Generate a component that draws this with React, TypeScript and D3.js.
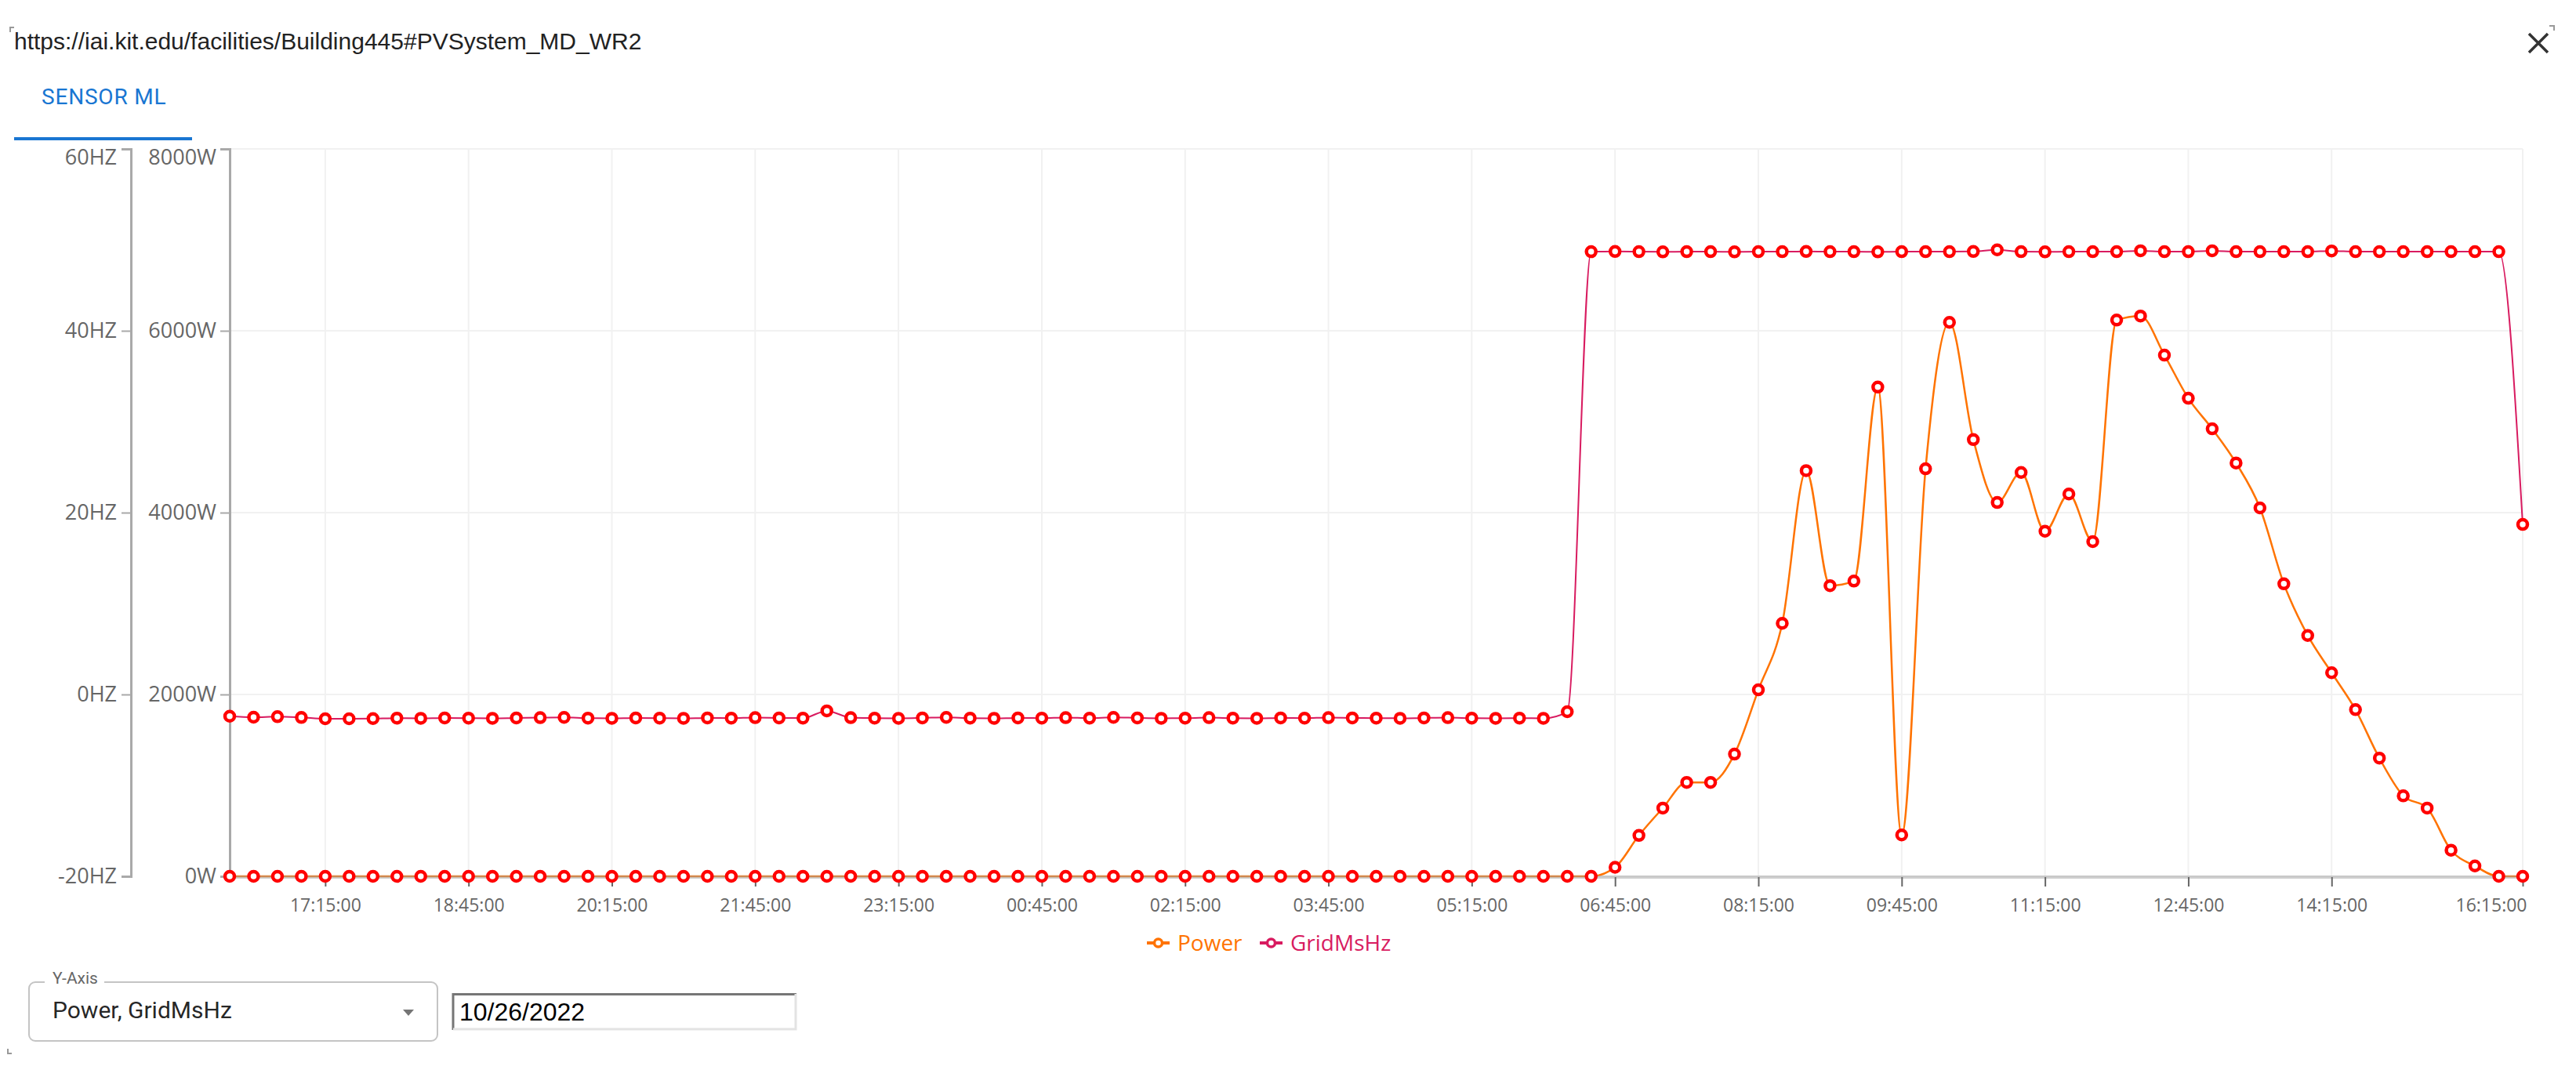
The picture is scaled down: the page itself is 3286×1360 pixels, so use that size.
import { useEffect, useRef } from "react";
import * as d3 from "d3";

const W = 3286;
const H = 1360;

// 15 minute samples, 25.10.2022 16:15 -> 26.10.2022 16:15
const startTime = new Date(2022, 9, 25, 16, 15);
const endTime = new Date(2022, 9, 26, 16, 15);
const times = d3.timeMinute.every(15)!.range(startTime, d3.timeMinute.offset(endTime, 1));

// Power in W
const powerW = [
  0, 0, 0, 0, 0, 0, 0, 0, 0, 0,
  0, 0, 0, 0, 0, 0, 0, 0, 0, 0,
  0, 0, 0, 0, 0, 0, 0, 0, 0, 0,
  0, 0, 0, 0, 0, 0, 0, 0, 0, 0,
  0, 0, 0, 0, 0, 0, 0, 0, 0, 0,
  0, 0, 0, 0, 0, 0, 0,
  0, 99, 450, 751, 1033, 1033, 1344, 2051, 2782, 4462,
  3197, 3247, 5381, 455, 4482, 6093, 4803, 4111, 4442, 3795,
  4205, 3681, 6118, 6162, 5732, 5258, 4922, 4546, 4052, 3217,
  2649, 2239, 1833, 1300, 885, 751, 287, 114, 0, 0,
];

// GridMsHz in Hz
const gridHz = [
  -2.39, -2.5, -2.44, -2.53, -2.67, -2.67, -2.65, -2.6, -2.62, -2.58,
  -2.6, -2.62, -2.58, -2.55, -2.52, -2.6, -2.62, -2.58, -2.6, -2.62,
  -2.58, -2.6, -2.55, -2.58, -2.6, -1.8, -2.55, -2.6, -2.62, -2.58,
  -2.52, -2.6, -2.62, -2.58, -2.6, -2.55, -2.6, -2.52, -2.58, -2.62,
  -2.6, -2.55, -2.6, -2.62, -2.58, -2.6, -2.55, -2.58, -2.6, -2.62,
  -2.58, -2.55, -2.6, -2.62, -2.6, -2.62, -1.9,
  48.7, 48.72, 48.7, 48.68, 48.7, 48.7, 48.68, 48.7, 48.7, 48.72,
  48.7, 48.7, 48.68, 48.7, 48.7, 48.7, 48.72, 48.9, 48.7, 48.68,
  48.7, 48.7, 48.7, 48.8, 48.7, 48.7, 48.8, 48.7, 48.7, 48.7,
  48.7, 48.78, 48.7, 48.7, 48.7, 48.7, 48.7, 48.7, 48.7,
  18.7,
];

const wattTicks = [0, 2000, 4000, 6000, 8000];
const hzTicks = [-20, 0, 20, 40, 60];
const xTickLabels = [
  "17:15", "18:45", "20:15", "21:45", "23:15", "00:45", "02:15", "03:45",
  "05:15", "06:45", "08:15", "09:45", "11:15", "12:45", "14:15", "16:15",
];

const seriesNames = ["Power", "GridMsHz"];
const seriesColors = ["#ff7300", "#d81b60"];

export default function App() {
  const ref = useRef<SVGSVGElement>(null);

  useEffect(() => {
    const svg = d3.select(ref.current);
    svg.selectAll("*").remove();

    const left = 293, right = 3218, top = 190, bottom = 1118;
    const x = d3.scaleTime().domain([startTime, endTime]).range([left, right]);
    const yW = d3.scaleLinear().domain([0, 8000]).range([bottom, top]);
    const yHz = d3.scaleLinear().domain([-20, 60]).range([bottom, top]);

    // tick times: the label list resolved against the sample times
    const tickTimes = xTickLabels.map((lab, i) => {
      const hit = times.filter((t) => d3.timeFormat("%H:%M")(t) === lab);
      return i === xTickLabels.length - 1 ? hit[hit.length - 1] : hit[0];
    });

    // header
    svg.append("text").attr("x", 18).attr("y", 63)
      .attr("font-family", "'Liberation Sans', Arial, sans-serif").attr("font-size", 30)
      .attr("fill", "#222").text("https://iai.kit.edu/facilities/Building445#PVSystem_MD_WR2");
    svg.append("path").attr("d", "M13,41V35H18").attr("stroke", "#999").attr("stroke-width", 2).attr("fill", "none");
    svg.append("path").attr("d", "M3252,33H3258V39").attr("stroke", "#999").attr("stroke-width", 2).attr("fill", "none");
    svg.append("path").attr("d", "M10,1338V1344H15").attr("stroke", "#999").attr("stroke-width", 2).attr("fill", "none");
    svg.append("path").attr("d", "M3226,43L3250,67M3250,43L3226,67")
      .attr("stroke", "#333").attr("stroke-width", 3.5);

    svg.append("text").attr("x", 53).attr("y", 133)
      .attr("font-family", "Roboto, sans-serif").attr("font-weight", 400).attr("font-size", 28)
      .attr("letter-spacing", 0.8).attr("fill", "#1976d2").text("SENSOR ML");
    svg.append("rect").attr("x", 18).attr("y", 175).attr("width", 227).attr("height", 4).attr("fill", "#1976d2");

    // grid
    const grid = svg.append("g").attr("stroke", "#f1f1f1").attr("stroke-width", 2);
    wattTicks.forEach((v) => {
      grid.append("line").attr("x1", left).attr("x2", right).attr("y1", yW(v)).attr("y2", yW(v));
    });
    [...tickTimes, endTime].forEach((t) => {
      grid.append("line").attr("x1", x(t)).attr("x2", x(t)).attr("y1", top).attr("y2", bottom);
    });

    // y axes
    const styleAxis = (g: any, topShift: number) => {
      g.select(".domain").attr("stroke", "#a9a9a9").attr("stroke-width", 3);
      g.selectAll(".tick line").attr("stroke", "#a9a9a9").attr("stroke-width", 2);
      g.selectAll(".tick text").attr("fill", "#666")
        .attr("font-family", "'Open Sans', sans-serif").attr("font-size", 27);
      g.selectAll(".tick").filter((d: number, i: number, n: any[]) => i === n.length - 1)
        .select("text").attr("dy", `${0.32 + topShift}em`);
    };
    const axHz = svg.append("g").attr("transform", "translate(167,0)")
      .call(d3.axisLeft(yHz).tickValues(hzTicks).tickSize(12).tickPadding(6).tickFormat((d) => `${d}HZ`));
    styleAxis(axHz, 0.4);
    const axW = svg.append("g").attr("transform", `translate(${left},0)`)
      .call(d3.axisLeft(yW).tickValues(wattTicks).tickSize(12).tickPadding(5).tickFormat((d) => `${d}W`));
    styleAxis(axW, 0.4);

    // lines
    const powerLine = d3.line<number>().x((_, i) => x(times[i])).y((d) => yW(d)).curve(d3.curveMonotoneX);
    const hzLine = d3.line<number>().x((_, i) => x(times[i])).y((d) => yHz(d)).curve(d3.curveMonotoneX);
    svg.append("path").attr("d", powerLine(powerW)).attr("fill", "none")
      .attr("stroke", seriesColors[0]).attr("stroke-width", 2.5);
    svg.append("path").attr("d", hzLine(gridHz)).attr("fill", "none")
      .attr("stroke", seriesColors[1]).attr("stroke-width", 2);

    // x axis
    svg.append("line").attr("x1", left).attr("x2", right).attr("y1", bottom + 1).attr("y2", bottom + 1)
      .attr("stroke", "#a0a0a0").attr("stroke-opacity", 0.5).attr("stroke-width", 4);
    const axX = svg.append("g").attr("transform", `translate(0,${bottom + 1})`)
      .call(d3.axisBottom(x).tickValues(tickTimes).tickSize(12).tickSizeOuter(0).tickPadding(16)
        .tickFormat((d) => d3.timeFormat("%H:%M:00")(d as Date)));
    axX.select(".domain").remove();
    axX.selectAll(".tick line").attr("stroke", "#666").attr("stroke-width", 2);
    axX.selectAll(".tick text").attr("fill", "#666")
      .attr("font-family", "'Open Sans', sans-serif").attr("font-size", 23);
    axX.selectAll(".tick").filter((d: any, i: number, n: any[]) => i === n.length - 1)
      .select("text").attr("text-anchor", "end").attr("dx", 5);

    // dots
    const dots = (vals: number[], y: (v: number) => number) =>
      svg.append("g").selectAll("circle").data(vals).join("circle")
        .attr("cx", (_, i) => x(times[i])).attr("cy", (d) => y(d)).attr("r", 6)
        .attr("fill", "#fff").attr("stroke", "#ff0000").attr("stroke-width", 4.5);
    dots(powerW, yW);
    dots(gridHz, yHz);

    // legend
    const legendX = [1463, 1607];
    const leg = svg.append("g").selectAll("g").data(seriesNames).join("g")
      .attr("transform", (_, i) => `translate(${legendX[i]},1203)`);
    leg.append("line").attr("x1", 0).attr("x2", 29).attr("stroke", (_, i) => seriesColors[i]).attr("stroke-width", 4);
    leg.append("circle").attr("cx", 14.5).attr("r", 5).attr("fill", "#fff")
      .attr("stroke", (_, i) => seriesColors[i]).attr("stroke-width", 3.5);
    leg.append("text").attr("x", 39).attr("dy", "0.35em").attr("fill", (_, i) => seriesColors[i])
      .attr("font-family", "'Open Sans', sans-serif").attr("font-size", 28).text((d) => d);

    // bottom controls
    svg.append("rect").attr("x", 37).attr("y", 1253).attr("width", 521).attr("height", 75).attr("rx", 8)
      .attr("fill", "none").attr("stroke", "#c4c4c4").attr("stroke-width", 2);
    svg.append("rect").attr("x", 57).attr("y", 1248).attr("width", 76).attr("height", 10).attr("fill", "#fff");
    svg.append("text").attr("x", 67).attr("y", 1255).attr("font-family", "Roboto, sans-serif")
      .attr("font-size", 21).attr("fill", "#666").text("Y-Axis");
    svg.append("text").attr("x", 67).attr("y", 1299).attr("font-family", "Roboto, sans-serif")
      .attr("font-size", 30).attr("fill", "rgba(0,0,0,0.87)").text("Power, GridMsHz");
    svg.append("path").attr("d", "M514,1288H528L521,1296Z").attr("fill", "#757575");

    svg.append("rect").attr("x", 577).attr("y", 1267).attr("width", 439).attr("height", 47).attr("fill", "#fff");
    svg.append("path").attr("d", "M578,1314V1268.5H1016").attr("fill", "none").attr("stroke", "#767676").attr("stroke-width", 3);
    svg.append("path").attr("d", "M1015,1268V1313H578").attr("fill", "none").attr("stroke", "#e3e3e3").attr("stroke-width", 3);
    svg.append("text").attr("x", 586).attr("y", 1302).attr("font-family", "'Liberation Sans', Arial, sans-serif")
      .attr("font-size", 32).attr("fill", "#000").text("10/26/2022");
  }, []);

  return (
    <svg ref={ref} width={W} height={H}
      style={{ position: "absolute", left: 0, top: 0, background: "#fff" }} />
  );
}
